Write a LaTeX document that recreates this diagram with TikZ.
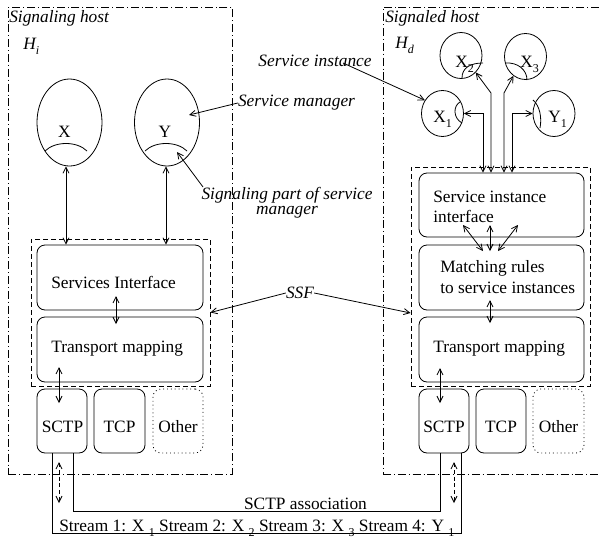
\documentclass[tikz,border=0pt]{standalone}
\usepackage{fontspec}
\setmainfont{Liberation Serif}
\usetikzlibrary{arrows.meta,fit,calc,shapes.geometric}
\newcommand\subd[1]{\raisebox{-4pt}{\fontsize{9}{9}\selectfont #1}}
\begin{document}
\begin{tikzpicture}[x=0.75pt,y=-0.75pt,
  every node/.style={font=\fontsize{13}{15}\selectfont},
  lw/.style={line width=0.6pt},
  rbox/.style={draw,rounded corners=6pt,inner sep=0pt,lw},
  obox/.style={draw,rounded corners=6pt,inner sep=0pt,lw,dash pattern=on 0.7pt off 2.2pt},
  ssfbox/.style={draw,inner sep=0pt,lw,dash pattern=on 3.5pt off 2.5pt},
  hostbox/.style={draw,inner sep=0pt,lw,dash pattern=on 6pt off 2.2pt on 0.7pt off 2.2pt},
  egg/.style={draw,ellipse,inner sep=0pt,lw},
  tip/.tip={Straight Barb[length=4.5pt,width=4.5pt]},
  dbl/.style={lw,tip-tip},
  sgl/.style={lw,-tip},
  dsh/.style={lw,tip-tip,dash pattern=on 3pt off 2pt},
  lbl/.style={font=\fontsize{13}{11.5}\selectfont\itshape,inner sep=0pt},
  txt/.style={inner sep=0pt},
]
\useasboundingbox (0,0) rectangle (601,540);
\clip (0,0) rectangle (601,540);

% host boxes
\node[hostbox,fit={(8,7)(232,474)}] (hostL) {};
\node[hostbox,fit={(383,7)(620,474)}] (hostR) {};
\node[lbl,anchor=base west] (shost) at (9,22) {Signaling host};
\node[lbl,anchor=base west] (dhost) at (385,22) {Signaled host};
\node[txt,anchor=base west] (hi) at (23,49) {\itshape H\subd{i}};
\node[txt,anchor=base west] (hd) at (395,48) {\itshape H\subd{d}};

% SSF dashed boxes
\node[ssfbox,fit={(31,239)(210,386)}] (ssfL) {};
\node[ssfbox,fit={(411,167)(590,386)}] (ssfR) {};

% left stack
\node[rbox,fit={(37,245)(203,310)}] (siL) {};
\node[rbox,fit={(37,317)(203,382)}] (tmL) {};
\node[txt,anchor=base west] (siLt) at (51,288) {Services Interface};
\node[txt,anchor=base west] (tmLt) at (51,352) {Transport mapping};
\node[rbox,fit={(37,389)(87,453)}] (sctpL) {};
\node[rbox,fit={(94,389)(145,453)}] (tcpL) {};
\node[obox,fit={(153,389)(203,453)}] (othL) {};
\node[txt,anchor=base] (sctpLt) at (62.5,432) {SCTP};
\node[txt,anchor=base] (tcpLt) at (119.5,432) {TCP};
\node[txt,anchor=base] (othLt) at (178,432) {Other};

% right stack
\node[rbox,fit={(419,173)(584,237)}] (siR) {};
\node[rbox,fit={(419,245)(584,310)}] (mrR) {};
\node[rbox,fit={(419,317)(584,382)}] (tmR) {};
\node[txt,anchor=base west] (siRt1) at (433,202) {Service instance};
\node[txt,anchor=base west] (siRt2) at (433,222) {interface};
\node[txt,anchor=base west] (mrRt1) at (440,272) {Matching rules};
\node[txt,anchor=base west] (mrRt2) at (440,293) {to service instances};
\node[txt,anchor=base west] (tmRt) at (433,352) {Transport mapping};
\node[rbox,fit={(419,389)(469,453)}] (sctpR) {};
\node[rbox,fit={(476,389)(526,453)}] (tcpR) {};
\node[obox,fit={(533,389)(584,453)}] (othR) {};
\node[txt,anchor=base] (sctpRt) at (444,432) {SCTP};
\node[txt,anchor=base] (tcpRt) at (501,432) {TCP};
\node[txt,anchor=base] (othRt) at (558.5,432) {Other};

% big ellipses
\node[egg,minimum width=48.75pt,minimum height=65.25pt] (X) at (69.5,122.5) {};
\node[egg,minimum width=48.75pt,minimum height=65.25pt] (Y) at (167,122.5) {};
\node[txt] (Xt) at (64.5,132) {X};
\node[txt] (Yt) at (165,132) {Y};
\draw[lw] (45,151) .. controls (55,141) and (77,141) .. (87,151);
\draw[lw] (145,151) .. controls (155,141) and (177,141) .. (187,151);

% small ellipses
\node[egg,minimum width=31.5pt,minimum height=34.5pt] (X2) at (461,55.5) {};
\node[egg,minimum width=31.5pt,minimum height=34.5pt] (X3) at (525.5,56.5) {};
\node[egg,minimum width=31.5pt,minimum height=34.5pt] (X1) at (442.5,113.5) {};
\node[egg,minimum width=31.5pt,minimum height=34.5pt] (Y1) at (554,113.5) {};
\node[txt,anchor=base west] (X1t) at (433,122) {X\subd{1}};
\node[txt,anchor=base west] (X2t) at (455,67) {X\subd{2}};
\node[txt,anchor=base west] (X3t) at (520,67) {X\subd{3}};
\node[txt,anchor=base west] (Y1t) at (548,122) {Y\subd{1}};
\draw[lw] (460,102) .. controls (453,106) and (453,118) .. (462,123);
\draw[lw] (533,100) .. controls (540,106) and (542,118) .. (540,128);
\draw[lw] (462,78) .. controls (462,68) and (470,63) .. (483,63);
\draw[lw] (505,63) .. controls (518,62) and (527,70) .. (527,80);

% labels
\node[lbl] (silbl) at (315,61) {Service instance};
\node[lbl] (smlbl) at (296.5,103) {Service manager};
\node[lbl,align=center] (splbl) at (287,203) {Signaling part of service\\manager};
\node[lbl] (ssf) at (300,293) {SSF};

% label connectors
\coordinate (sistart) at (343,63);
\coordinate (smtip) at (189,115);
\coordinate (spstart) at (203,187);
\coordinate (sptip) at (177,152);
\draw[sgl] (sistart) -- (X1.143);
\draw[sgl] (smlbl.west) -- (smtip);
\draw[sgl] (spstart) -- (sptip);
\draw[sgl] (ssf.west) -- (ssfL.east);
\draw[sgl] (ssf.east) -- (ssfR.west |- 0,313);

% left vertical arrows
\draw[dbl] (66,0 |- X.south) -- (66,0 |- siL.north);
\draw[dbl] (166,0 |- Y.south) -- (166,0 |- siL.north);
\coordinate (l1a) at (116,296); \coordinate (l1b) at (116,324);
\coordinate (l2a) at (59,367);  \coordinate (l2b) at (59,403);
\draw[dbl] (l1a) -- (l1b);
\draw[dbl] (l2a) -- (l2b);

% right upper connectors
\draw[dbl] (X1.east) -- (483,0 |- X1.east) -- (483,0 |- siR.north);
\draw[dbl] (X2.-49) -- (491,93) -- (491,0 |- siR.north);
\draw[dbl] (X3.-122) -- (504,93) -- (504,0 |- siR.north);
\draw[dbl] (Y1.west) -- (512,0 |- Y1.west) -- (512,0 |- siR.north);

% right internal arrows
\coordinate (r1a) at (463,225); \coordinate (r1b) at (483,251);
\coordinate (r2a) at (490,225); \coordinate (r2b) at (490,251);
\coordinate (r3a) at (518,225); \coordinate (r3b) at (498,251);
\coordinate (r4a) at (490,300); \coordinate (r4b) at (490,323);
\coordinate (r5a) at (440,368); \coordinate (r5b) at (440,403);
\draw[dbl] (r1a) -- (r1b);
\draw[dbl] (r2a) -- (r2b);
\draw[dbl] (r3a) -- (r3b);
\draw[dbl] (r4a) -- (r4b);
\draw[dbl] (r5a) -- (r5b);

% SCTP association lines
\draw[lw] (52,0 |- sctpL.south) -- (52,533) -- (461,533) -- (461,0 |- sctpR.south);
\draw[lw] (73,0 |- sctpL.south) -- (73,511) -- (440,511) -- (440,0 |- sctpR.south);
\coordinate (dla) at (59,462); \coordinate (dlb) at (59,503);
\coordinate (dra) at (454,462); \coordinate (drb) at (454,503);
\draw[dsh] (dla) -- (dlb);
\draw[dsh] (dra) -- (drb);
\node[txt,anchor=base] (assoc) at (305.5,509.5) {SCTP association};
\node[txt,anchor=base west] (streams) at (59,531.5) {Stream 1: X \subd{1} Stream 2: X \subd{2} Stream 3: X \subd{3} Stream 4: Y \subd{1}};
\end{tikzpicture}
\end{document}
